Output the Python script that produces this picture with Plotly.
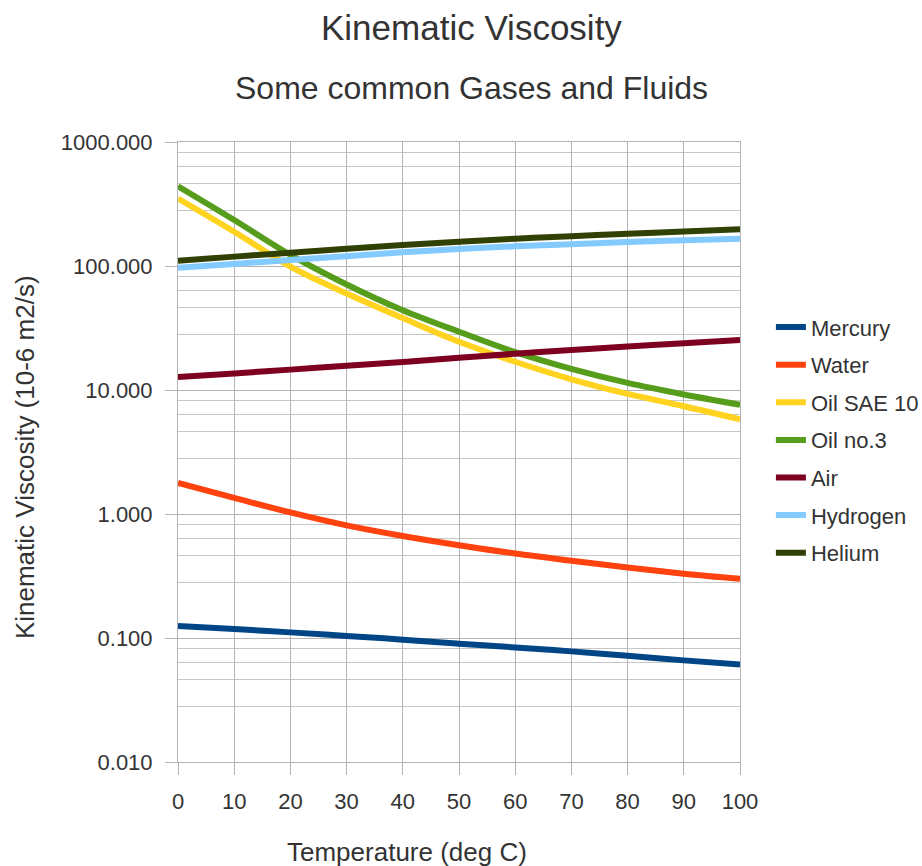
import plotly.graph_objects as go

temps = [0, 10, 20, 30, 40, 50, 60, 70, 80, 90, 100]
mercury = [0.125, 0.118, 0.111, 0.104, 0.097, 0.090, 0.084, 0.078, 0.072, 0.066, 0.061]
water = [1.78, 1.35, 1.03, 0.81, 0.665, 0.56, 0.48, 0.42, 0.37, 0.33, 0.30]
oil_sae10 = [350, 189, 99, 60, 38, 24.5, 16.9, 12.2, 9.3, 7.4, 5.8]
oil_no3 = [440, 235, 123, 71, 44, 29.5, 20.2, 14.8, 11.4, 9.2, 7.6]
air = [12.7, 13.6, 14.6, 15.7, 16.8, 18.2, 19.6, 21.0, 22.4, 23.8, 25.3]
hydrogen = [97, 104, 112, 120, 129, 137, 144, 150, 156, 161, 166]
helium = [110, 119, 128, 138, 148, 157, 166, 174, 182, 190, 198]

series_names = ["Mercury", "Water", "Oil SAE 10", "Oil no.3", "Air", "Hydrogen", "Helium"]
series_values = [mercury, water, oil_sae10, oil_no3, air, hydrogen, helium]
series_colors = ["#004586", "#ff420e", "#ffd320", "#579d1c", "#7e0021", "#83caff", "#314004"]

y_tickvals = [0.01, 0.1, 1, 10, 100, 1000]
x_tickvals = [0, 10, 20, 30, 40, 50, 60, 70, 80, 90, 100]
minor_factors = [2.8, 4.6, 6.4, 8.2]

FONT = "Liberation Sans, Arial, sans-serif"
TXT = "#333333"
GRID = "#b3b3b3"

fig = go.Figure()
for name, vals, col in zip(series_names, series_values, series_colors):
    fig.add_trace(go.Scatter(
        x=temps, y=vals, name=name, mode="lines",
        line=dict(color=col, width=6, shape="spline", smoothing=1),
        legendgroup=name,
    ))

minor_vals = [d * f for d in y_tickvals[:-1] for f in minor_factors]

fig.update_layout(
    width=922, height=866,
    margin=dict(l=178, r=182, t=142, b=104, autoexpand=False),
    paper_bgcolor="white", plot_bgcolor="white",
    font=dict(family=FONT, color=TXT, size=20),
    showlegend=True,
    legend=dict(x=1.055, y=0.735, xanchor="left", yanchor="top",
                font=dict(size=22, color=TXT), tracegroupgap=6,
                itemwidth=30, bgcolor="rgba(0,0,0,0)"),
    xaxis=dict(range=[0, 100], tickvals=x_tickvals, showgrid=True, gridcolor=GRID,
               gridwidth=1, ticks="outside", ticklen=12, tickcolor=GRID,
               ticklabelstandoff=8,
               showline=True, linecolor=GRID, mirror=True, zeroline=False,
               tickfont=dict(size=22, color=TXT)),
    yaxis=dict(type="log", range=[-2, 3], tickvals=y_tickvals, tickformat=".3f",
               showgrid=True, gridcolor=GRID, gridwidth=1, ticks="outside",
               ticklen=12, tickcolor=GRID, ticklabelstandoff=8,
               showline=True, linecolor=GRID,
               mirror=True, zeroline=False, tickfont=dict(size=22, color=TXT),
               minor=dict(tickvals=minor_vals, showgrid=True, gridcolor="#c6c6c6",
                          gridwidth=1, ticks="")),
    annotations=[
        dict(text="Kinematic Viscosity", x=0.523, y=1.184, xref="paper", yref="paper",
             showarrow=False, xanchor="center", yanchor="middle",
             font=dict(size=35, color=TXT, family=FONT)),
        dict(text="Some common Gases and Fluids", x=0.523, y=1.087, xref="paper", yref="paper",
             showarrow=False, xanchor="center", yanchor="middle",
             font=dict(size=32, color=TXT, family=FONT)),
        dict(text="Kinematic Viscosity (10-6 m2/s)", x=-0.272, y=0.492, xref="paper", yref="paper",
             showarrow=False, xanchor="center", yanchor="middle", textangle=-90,
             font=dict(size=26, color=TXT, family=FONT)),
        dict(text="Temperature (deg C)", x=0.407, y=-0.145, xref="paper", yref="paper",
             showarrow=False, xanchor="center", yanchor="middle",
             font=dict(size=26, color=TXT, family=FONT)),
    ],
)

fig.write_html("out.html")
